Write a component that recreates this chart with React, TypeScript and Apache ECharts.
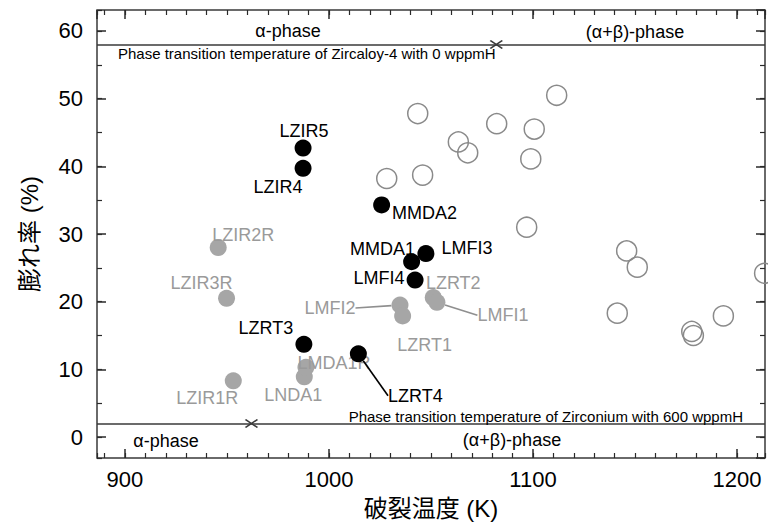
import React, { useEffect, useRef } from "react";
import * as echarts from "echarts";

// ---- data ----
const blackNames = ["LZIR5", "LZIR4", "MMDA2", "MMDA1", "LMFI3", "LMFI4", "LZRT3", "LZRT4"];
const blackTemps = [987.3, 987.3, 1025.8, 1040.5, 1047.5, 1042.2, 987.7, 1014.4];
const blackRatios = [42.7, 39.7, 34.3, 25.9, 27.1, 23.2, 13.7, 12.3];

const grayNames = ["LZIR2R", "LZIR3R", "LZIR1R", "LNDA1", "LMDA1R", "LMFI2", "LZRT1", "LZRT2", "LMFI1"];
const grayTemps = [945.7, 949.8, 953.1, 987.9, 988.7, 1034.8, 1036.1, 1051.1, 1052.9];
const grayRatios = [28.0, 20.5, 8.3, 8.9, 10.3, 19.5, 17.9, 20.6, 19.9];

const hollowTemps = [1043.5, 1111.6, 1082.2, 1100.6, 1063.4, 1068.0, 1098.9, 1028.3, 1045.9, 1096.9, 1145.9, 1151.1, 1213.5, 1141.3, 1177.8, 1178.6, 1193.3];
const hollowRatios = [47.8, 50.5, 46.3, 45.5, 43.6, 42.0, 41.1, 38.2, 38.7, 31.0, 27.5, 25.1, 24.2, 18.3, 15.6, 15.0, 17.9];

const phaseLevels = [58, 2];
const transitionTemps = [1082, 962];
const phaseNote = [
  "Phase transition temperature of Zircaloy-4 with 0 wppmH",
  "Phase transition temperature of Zirconium with 600 wppmH",
];
const phaseNames = ["α-phase", "(α+β)-phase"];

// ---- label placement (styles) ----
const blackLabelOffsets: Record<string, number[]> = {
  LZIR5: [1, -17], LZIR4: [-25, 19], MMDA2: [43, 8], MMDA1: [-29, -13],
  LMFI3: [41, -6], LMFI4: [-36, -2], LZRT3: [-38, -16], LZRT4: [57, 42],
};
const grayLabelOffsets: Record<string, number[]> = {
  LZIR2R: [25, -13], LZIR3R: [-25, -15], LZIR1R: [-26, 17], LNDA1: [-11, 18],
  LMDA1R: [28, -4], LMFI2: [-70, 3], LZRT1: [22, 29], LZRT2: [20, -15], LMFI1: [66, 13],
};
const leaderLabels = ["LZRT4", "LMFI2", "LMFI1"];

const FONT = '"Liberation Sans", Arial, "Noto Sans CJK JP", sans-serif';
const BLACK = "#000000";
const GRAY = "#a6a6a6";
const GRAY_TEXT = "#9a9a9a";
const FRAME = "#3a3a3a";
const TICK = "#2a2a2a";

const X_MIN = 886.3;
const X_MAX = 1213.7;
const Y_MIN = -3.1;
const Y_MAX = 63.1;

function makeItems(names: string[], xs: number[], ys: number[], lineColor: string) {
  return names.map((n, i) => ({
    name: n,
    value: [xs[i], ys[i]],
    labelLine: leaderLabels.includes(n)
      ? { show: true, smooth: false, lineStyle: { color: lineColor, width: 1.6 } }
      : { show: false },
  }));
}

function tickFormatter(step: number) {
  return (v: number) => (Math.abs(v / step - Math.round(v / step)) < 1e-6 ? String(Math.round(v)) : "");
}

function xAxisDef(position: "bottom" | "top", minor: boolean, showLabel: boolean, name?: string) {
  return {
    type: "value",
    position,
    min: X_MIN,
    max: X_MAX,
    splitNumber: minor ? 33 : 3,
    name: name,
    nameLocation: "middle",
    nameGap: 38,
    nameTextStyle: { fontSize: 24, color: BLACK, fontFamily: FONT },
    axisLine: { show: false, onZero: false },
    axisTick: { show: true, inside: true, length: minor ? 5 : 9, lineStyle: { color: TICK, width: minor ? 1.2 : 1.5 } },
    minorTick: { show: false },
    splitLine: { show: false },
    axisLabel: {
      show: showLabel,
      fontSize: 22,
      color: BLACK,
      fontFamily: FONT,
      margin: 10,
      showMinLabel: false,
      showMaxLabel: false,
      formatter: tickFormatter(100),
    },
  };
}

function yAxisDef(position: "left" | "right", minor: boolean, showLabel: boolean, name?: string) {
  return {
    type: "value",
    position,
    min: Y_MIN,
    max: Y_MAX,
    splitNumber: minor ? 13 : 6,
    name: name,
    nameLocation: "middle",
    nameGap: 56,
    nameTextStyle: { fontSize: 24, color: BLACK, fontFamily: FONT },
    axisLine: { show: false, onZero: false },
    axisTick: { show: true, inside: true, length: minor ? 5 : 9, lineStyle: { color: TICK, width: minor ? 1.2 : 1.5 } },
    minorTick: { show: false },
    splitLine: { show: false },
    axisLabel: {
      show: showLabel,
      fontSize: 22,
      color: BLACK,
      fontFamily: FONT,
      margin: 14,
      showMinLabel: false,
      showMaxLabel: false,
      formatter: tickFormatter(10),
    },
  };
}

function layoutFor(names: string[], offsets: Record<string, number[]>) {
  return (params: any) => {
    const n = names[params.dataIndex];
    const o = offsets[n] || [0, 0];
    return { dx: o[0], dy: o[1] };
  };
}

function buildOption() {
  const labelBase = {
    show: true,
    position: "inside",
    formatter: "{b}",
    fontSize: 18,
    fontFamily: FONT,
    align: "center",
    verticalAlign: "middle",
    textBorderWidth: 0,
  };
  const txt = (x: number, y: number, text: string, size: number, align: string) => ({
    type: "text",
    x,
    y,
    z: 100,
    style: { text, fontSize: size, fontFamily: FONT, fill: BLACK, align, verticalAlign: "middle" },
  });
  return {
    animation: false,
    backgroundColor: "#ffffff",
    grid: {
      left: 97,
      top: 10,
      right: 3,
      bottom: 74,
      show: true,
      borderColor: FRAME,
      borderWidth: 1.5,
      backgroundColor: "transparent",
    },
    xAxis: [
      xAxisDef("bottom", false, true, "破裂温度 (K)"),
      xAxisDef("top", false, false),
      xAxisDef("bottom", true, false),
      xAxisDef("top", true, false),
    ],
    yAxis: [
      yAxisDef("left", false, true, "膨れ率 (%)"),
      yAxisDef("right", false, false),
      yAxisDef("left", true, false),
      yAxisDef("right", true, false),
    ],
    graphic: [
      txt(288, 31, phaseNames[0], 18, "center"),
      txt(635, 32, phaseNames[1], 18, "center"),
      txt(118, 53, phaseNote[0], 15, "left"),
      txt(743, 416, phaseNote[1], 15, "right"),
      txt(166, 441, phaseNames[0], 18, "center"),
      txt(512, 440, phaseNames[1], 18, "center"),
    ],
    series: [
      {
        name: "hollow",
        type: "scatter",
        symbol: "circle",
        symbolSize: 20,
        itemStyle: { color: "rgba(255,255,255,0)", borderColor: "#8a8a8a", borderWidth: 1.5, opacity: 1 },
        data: hollowTemps.map((x, i) => [x, hollowRatios[i]]),
        z: 2,
      },
      {
        name: "gray",
        type: "scatter",
        symbol: "circle",
        symbolSize: 17,
        itemStyle: { color: GRAY, opacity: 1 },
        label: { ...labelBase, color: GRAY_TEXT },
        labelLayout: layoutFor(grayNames, grayLabelOffsets),
        data: makeItems(grayNames, grayTemps, grayRatios, "#8f8f8f"),
        z: 3,
      },
      {
        name: "black",
        type: "scatter",
        symbol: "circle",
        symbolSize: 17,
        itemStyle: { color: BLACK, opacity: 1 },
        label: { ...labelBase, color: BLACK },
        labelLayout: layoutFor(blackNames, blackLabelOffsets),
        data: makeItems(blackNames, blackTemps, blackRatios, BLACK),
        z: 4,
      },
      {
        name: "transition",
        type: "scatter",
        symbol: "path://M0,0L12,8M0,8L12,0",
        symbolSize: [12, 8],
        itemStyle: { color: "rgba(0,0,0,0)", borderColor: FRAME, borderWidth: 1.5, opacity: 1 },
        data: transitionTemps.map((x, i) => [x, phaseLevels[i]]),
        markLine: {
          silent: true,
          symbol: ["none", "none"],
          label: { show: false },
          lineStyle: { color: FRAME, width: 1.6, type: "solid" },
          data: phaseLevels.map((v) => ({ yAxis: v })),
        },
        z: 5,
      },
    ],
  };
}

export default function App() {
  const ref = useRef<HTMLDivElement>(null);
  useEffect(() => {
    if (!ref.current) return;
    const chart = echarts.init(ref.current, null, { renderer: "svg" });
    chart.setOption(buildOption() as any);
    return () => chart.dispose();
  }, []);
  return (
    <div
      ref={ref}
      style={{ position: "absolute", left: 0, top: 0, width: 768, height: 532, background: "#fff" }}
    />
  );
}
